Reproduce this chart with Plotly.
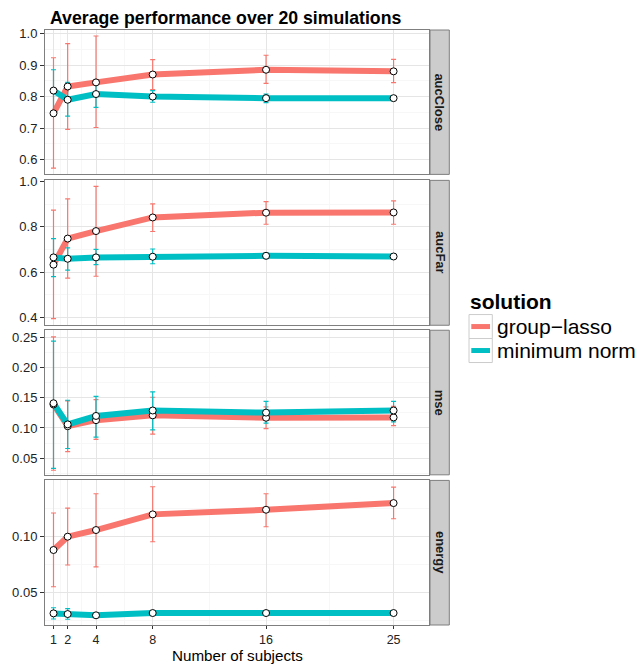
import plotly.graph_objects as go

# ---- data -------------------------------------------------------------
subjects = [1, 2, 4, 8, 16, 25]
metrics = ["aucClose", "aucFar", "mse", "energy"]
solutions = ["group\u2212lasso", "minimum norm"]
colors = {"group\u2212lasso": "#F8766D", "minimum norm": "#00BFC4"}

# aucClose
aucclose_gl_mean = [0.747, 0.832, 0.845, 0.870, 0.885, 0.880]
aucclose_gl_lo = [0.573, 0.696, 0.702, 0.822, 0.842, 0.844]
aucclose_gl_hi = [0.923, 0.968, 0.992, 0.917, 0.931, 0.918]
aucclose_mn_mean = [0.819, 0.790, 0.808, 0.800, 0.795, 0.795]
aucclose_mn_lo = [0.753, 0.738, 0.766, 0.782, 0.781, 0.791]
aucclose_mn_hi = [0.885, 0.845, 0.850, 0.819, 0.808, 0.799]

# aucFar
aucfar_gl_mean = [0.633, 0.748, 0.781, 0.841, 0.862, 0.863]
aucfar_gl_lo = [0.395, 0.574, 0.582, 0.779, 0.811, 0.811]
aucfar_gl_hi = [0.873, 0.923, 0.978, 0.901, 0.911, 0.914]
aucfar_mn_mean = [0.665, 0.659, 0.665, 0.668, 0.672, 0.669]
aucfar_mn_lo = [0.580, 0.609, 0.633, 0.637, 0.660, 0.659]
aucfar_mn_hi = [0.748, 0.707, 0.700, 0.702, 0.685, 0.680]

# mse
mse_gl_mean = [0.139, 0.103, 0.113, 0.121, 0.117, 0.1175]
mse_gl_lo = [0.030, 0.061, 0.081, 0.090, 0.099, 0.104]
mse_gl_hi = [0.251, 0.145, 0.147, 0.151, 0.135, 0.136]
mse_mn_mean = [0.141, 0.106, 0.120, 0.129, 0.1255, 0.129]
mse_mn_lo = [0.033, 0.066, 0.085, 0.097, 0.108, 0.110]
mse_mn_hi = [0.244, 0.146, 0.1525, 0.160, 0.144, 0.144]

# energy
energy_gl_mean = [0.0879, 0.0997, 0.1056, 0.1195, 0.1236, 0.1295]
energy_gl_lo = [0.0553, 0.0746, 0.0730, 0.0952, 0.1085, 0.1156]
energy_gl_hi = [0.1207, 0.1250, 0.1378, 0.1440, 0.1378, 0.1437]
energy_mn_mean = [0.0317, 0.0311, 0.0300, 0.0320, 0.0320, 0.0320]
energy_mn_lo = [0.0267, 0.0265, 0.0285, 0.0305, 0.0305, 0.0305]
energy_mn_hi = [0.0367, 0.0360, 0.0315, 0.0335, 0.0335, 0.0335]

series = {
    "aucClose": {
        "group\u2212lasso": (aucclose_gl_mean, aucclose_gl_lo, aucclose_gl_hi),
        "minimum norm": (aucclose_mn_mean, aucclose_mn_lo, aucclose_mn_hi),
    },
    "aucFar": {
        "group\u2212lasso": (aucfar_gl_mean, aucfar_gl_lo, aucfar_gl_hi),
        "minimum norm": (aucfar_mn_mean, aucfar_mn_lo, aucfar_mn_hi),
    },
    "mse": {
        "group\u2212lasso": (mse_gl_mean, mse_gl_lo, mse_gl_hi),
        "minimum norm": (mse_mn_mean, mse_mn_lo, mse_mn_hi),
    },
    "energy": {
        "group\u2212lasso": (energy_gl_mean, energy_gl_lo, energy_gl_hi),
        "minimum norm": (energy_mn_mean, energy_mn_lo, energy_mn_hi),
    },
}

# y scales per facet: range, major ticks, tick format, minor step
y_ranges = [[0.5535, 1.011], [0.366, 1.0044], [0.0224, 0.262], [0.0214, 0.1496]]
y_ticks = [
    [0.6, 0.7, 0.8, 0.9, 1.0],
    [0.4, 0.6, 0.8, 1.0],
    [0.05, 0.10, 0.15, 0.20, 0.25],
    [0.05, 0.10],
]
y_formats = [".1f", ".1f", ".2f", ".2f"]
y_minor = [0.05, 0.1, 0.025, 0.025]
x_minor = [1.5, 3, 6, 12, 20.5]

# ---- figure geometry (pixels) -------------------------------------------
W, H = 643, 665
LEFT, RIGHT = 45, 429
TOP, BOTTOM = 29.5, 625
panel_px = [(29.5, 174), (180, 325), (330, 474.7), (480.3, 625)]
PH = BOTTOM - TOP
PW = RIGHT - LEFT


def py(px):
    return (BOTTOM - px) / PH


def pxx(px):
    return (px - LEFT) / PW


FONT = "Liberation Sans, Arial, sans-serif"
GRID = "#E5E5E5"
MINOR = "#F7F7F7"
BORDER = "#7F7F7F"
TEXT = "#1A1A1A"

fig = go.Figure()

for i, m in enumerate(metrics):
    xa = "x" if i == 0 else f"x{i + 1}"
    ya = "y" if i == 0 else f"y{i + 1}"
    # thick lines
    for s in solutions:
        mean, lo, hi = series[m][s]
        fig.add_trace(go.Scatter(
            x=subjects, y=mean, mode="lines", xaxis=xa, yaxis=ya,
            line=dict(color=colors[s], width=6), showlegend=False,
            hoverinfo="skip"))
    # error bars
    for s in solutions:
        mean, lo, hi = series[m][s]
        fig.add_trace(go.Scatter(
            x=subjects, y=mean, mode="markers", xaxis=xa, yaxis=ya,
            marker=dict(size=1, opacity=0),
            error_y=dict(type="data", symmetric=False,
                         array=[h - v for h, v in zip(hi, mean)],
                         arrayminus=[v - l for v, l in zip(mean, lo)],
                         color=colors[s], thickness=1.2, width=2.5),
            showlegend=False, hoverinfo="skip"))
    # points
    for s in solutions:
        mean, lo, hi = series[m][s]
        fig.add_trace(go.Scatter(
            x=subjects, y=mean, mode="markers", xaxis=xa, yaxis=ya,
            marker=dict(size=7, color="white",
                        line=dict(color="black", width=1)),
            showlegend=False, name=s))

layout = dict(
    width=W, height=H,
    margin=dict(l=LEFT, r=W - RIGHT, t=TOP, b=H - BOTTOM, pad=0),
    paper_bgcolor="white", plot_bgcolor="white",
    font=dict(family=FONT, color=TEXT, size=13),
    showlegend=False,
)

shapes = []
annotations = []

# plot title
annotations.append(dict(text="<b>Average performance over 20 simulations</b>",
                        xref="paper", yref="paper", x=pxx(47.5), y=py(17),
                        xanchor="left", yanchor="middle", showarrow=False,
                        font=dict(size=17.7, color="black", family=FONT)))

for i, m in enumerate(metrics):
    xk = "xaxis" if i == 0 else f"xaxis{i + 1}"
    yk = "yaxis" if i == 0 else f"yaxis{i + 1}"
    ya = "y" if i == 0 else f"y{i + 1}"
    top_px, bot_px = panel_px[i]
    last = i == len(metrics) - 1
    layout[xk] = dict(
        domain=[0, 1], anchor=ya, range=[0.4, 27.5],
        tickmode="array", tickvals=subjects,
        ticktext=[str(v) for v in subjects] if last else [""] * len(subjects),
        showticklabels=last, ticks="outside" if last else "",
        ticklen=3, tickcolor="#333333", tickwidth=1,
        showgrid=True, gridcolor=GRID, gridwidth=1,
        minor=dict(tickmode="array", tickvals=x_minor, showgrid=True,
                   gridcolor=MINOR, gridwidth=1),
        showline=True, mirror=True, linecolor=BORDER, linewidth=1,
        zeroline=False, tickfont=dict(size=12.5, color="#222222"),
        **({} if i == 0 else {"matches": "x"}),
    )
    layout[yk] = dict(
        domain=[py(bot_px), py(top_px)], anchor="x" if i == 0 else f"x{i + 1}",
        range=y_ranges[i], tickmode="array", tickvals=y_ticks[i],
        tickformat=y_formats[i], ticks="outside", ticklen=4,
        tickcolor="#333333", tickwidth=1,
        showgrid=True, gridcolor=GRID, gridwidth=1,
        minor=dict(tickmode="linear", tick0=0, dtick=y_minor[i],
                   showgrid=True, gridcolor=MINOR, gridwidth=1),
        showline=True, mirror=True, linecolor=BORDER, linewidth=1,
        zeroline=False, tickfont=dict(size=13, color="#222222"),
    )
    # facet strip on the right
    shapes.append(dict(type="rect", xref="paper", yref="paper",
                       x0=pxx(430), x1=pxx(449.3),
                       y0=py(bot_px), y1=py(top_px),
                       fillcolor="#CCCCCC", line=dict(color=BORDER, width=1),
                       layer="above"))
    annotations.append(dict(text=f"<b>{m}</b>", xref="paper", yref="paper",
                            x=pxx(439.8), y=py((top_px + bot_px) / 2),
                            textangle=90, showarrow=False,
                            font=dict(size=13, color=TEXT, family=FONT),
                            xanchor="center", yanchor="middle"))

# x axis title, sitting on the bottom edge of the page
annotations.append(dict(text="Number of subjects", xref="paper", yref="paper",
                        x=0.5, y=py(665), showarrow=False, borderpad=0,
                        xanchor="center", yanchor="bottom",
                        font=dict(size=15.2, color="black", family=FONT)))

# legend: title, keys and labels
annotations.append(dict(text="<b>solution</b>", xref="paper", yref="paper",
                        x=pxx(468), y=py(301), showarrow=False,
                        xanchor="left", yanchor="middle",
                        font=dict(size=21, color="black", family=FONT)))
for k, s in enumerate(solutions):
    y0 = 314.3 + 24 * k
    shapes.append(dict(type="rect", xref="paper", yref="paper",
                       x0=pxx(469), x1=pxx(492.3), y0=py(y0 + 24), y1=py(y0),
                       fillcolor="white", line=dict(color="#CCCCCC", width=1)))
    shapes.append(dict(type="line", xref="paper", yref="paper",
                       x0=pxx(471.3), x1=pxx(490), y0=py(y0 + 12), y1=py(y0 + 12),
                       line=dict(color=colors[s], width=5)))
    annotations.append(dict(text=s, xref="paper", yref="paper",
                            x=pxx(495), y=py(y0 + 12), showarrow=False,
                            xanchor="left", yanchor="middle",
                            font=dict(size=21, color="black", family=FONT)))

layout["shapes"] = shapes
layout["annotations"] = annotations
fig.update_layout(**layout)

fig.write_html("out.html")
